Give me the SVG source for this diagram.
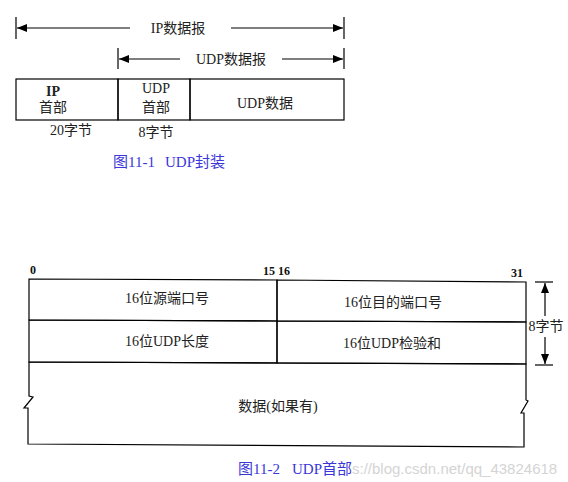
<svg xmlns="http://www.w3.org/2000/svg" width="568" height="482" viewBox="0 0 568 482">
<defs>
<marker id="ah" viewBox="0 0 10 8" refX="10" refY="4" markerWidth="10" markerHeight="8" markerUnits="userSpaceOnUse" orient="auto">
<path d="M0,0 L10,4 L0,8 Z" fill="#000"/>
</marker>
<style>
.ln{stroke:#000;stroke-width:1.2;fill:none}
.t{font-family:"Liberation Serif","Noto Sans CJK SC",serif;font-size:14px;fill:#222;text-anchor:middle}
.b{font-family:"Liberation Serif","Noto Sans CJK SC",serif;font-size:12px;font-weight:bold;fill:#111}
.cap{font-family:"Liberation Serif","Noto Sans CJK SC",serif;font-size:15px;fill:#3b36d8}
.wm{font-family:"Liberation Sans",sans-serif;font-size:15px;fill:#d4d4d4}
</style>
</defs>
<rect width="568" height="482" fill="#fff"/>

<g id="connectors">
<line class="ln" x1="16" y1="17" x2="16" y2="39"/>
<line class="ln" x1="344" y1="17" x2="344" y2="39"/>
<line class="ln" x1="130" y1="28" x2="17" y2="28" marker-end="url(#ah)"/>
<line class="ln" x1="231" y1="28" x2="343" y2="28" marker-end="url(#ah)"/>
<line class="ln" x1="118" y1="48" x2="118" y2="69"/>
<line class="ln" x1="344" y1="48" x2="344" y2="69"/>
<line class="ln" x1="180" y1="59" x2="119" y2="59" marker-end="url(#ah)"/>
<line class="ln" x1="282" y1="59" x2="343" y2="59" marker-end="url(#ah)"/>
<line class="ln" x1="535" y1="282" x2="553" y2="282"/>
<line class="ln" x1="535" y1="365" x2="553" y2="365"/>
<line class="ln" x1="545" y1="316" x2="545" y2="283" marker-end="url(#ah)"/>
<line class="ln" x1="545" y1="337" x2="545" y2="364" marker-end="url(#ah)"/>
</g>

<g id="ip-datagram-label"><text class="t" x="178" y="33">IP数据报</text></g>
<g id="udp-datagram-label"><text class="t" x="231" y="64">UDP数据报</text></g>

<g id="ip-header">
<rect class="ln" x="16" y="79" width="102" height="41"/>
<text class="t" x="53" y="96" font-weight="bold" font-size="12">IP</text>
<text class="t" x="53" y="112">首部</text>
<text class="t" x="71" y="135">20字节</text>
</g>
<g id="udp-header">
<rect class="ln" x="118" y="79" width="72" height="41"/>
<text class="t" x="156" y="93">UDP</text>
<text class="t" x="156" y="112">首部</text>
<text class="t" x="156" y="137">8字节</text>
</g>
<g id="udp-data">
<rect class="ln" x="190" y="79" width="154" height="41"/>
<text class="t" x="265" y="108">UDP数据</text>
</g>
<g id="caption1"><text class="cap" x="113" y="167">图11-1<tspan x="165">UDP封装</tspan></text></g>

<g id="bit-labels">
<text class="b" x="30" y="274">0</text>
<text class="b" x="263" y="275">15 16</text>
<text class="b" x="511" y="277">31</text>
</g>

<g id="src-port">
<path class="ln" d="M29,279 L277,280 L277,321 L29,320 Z"/>
<text class="t" x="167" y="303">16位源端口号</text>
</g>
<g id="dst-port">
<path class="ln" d="M277,280 L526,282 L526,322 L277,321 Z"/>
<text class="t" x="393" y="307">16位目的端口号</text>
</g>
<g id="udp-length">
<path class="ln" d="M29,320 L277,321 L277,363 L29,362 Z"/>
<text class="t" x="167" y="346">16位UDP长度</text>
</g>
<g id="udp-checksum">
<path class="ln" d="M277,321 L526,322 L526,364 L277,363 Z"/>
<text class="t" x="392" y="348">16位UDP检验和</text>
</g>
<g id="data">
<path class="ln" d="M29,362 L526,364 L526,400 L528,401 L521,413 L524,413 L524,447 L28,444 L28,408 L24,408 L33,397 L29,396 Z"/>
<text class="t" x="278" y="411">数据(如果有)</text>
</g>
<g id="size-label"><text class="t" x="546" y="331">8字节</text></g>
<g id="caption2"><text class="cap" x="238" y="474">图11-2<tspan x="292">UDP首部</tspan></text></g>
<g id="watermark"><text class="wm" x="352" y="474">s://blog.csdn.net/qq_43824618</text></g>
</svg>
